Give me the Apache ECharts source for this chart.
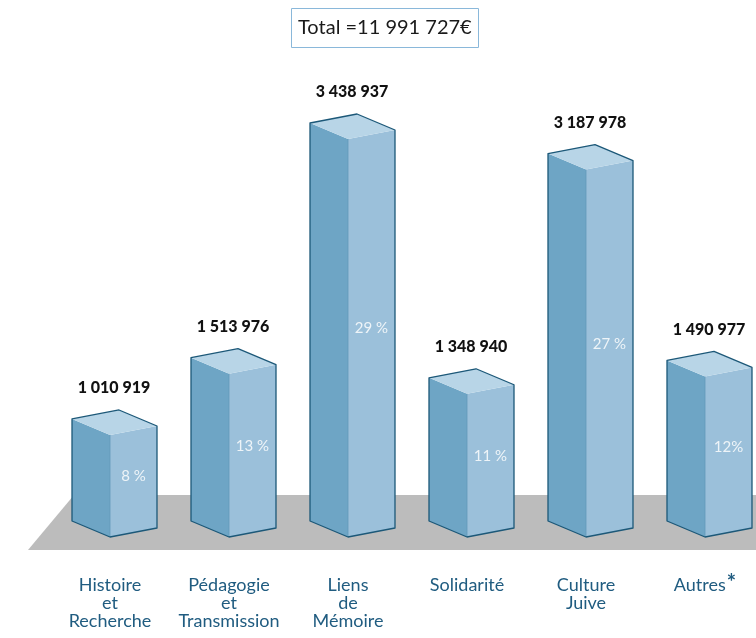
<!DOCTYPE html>
<html>
<head>
<meta charset="utf-8">
<title>Répartition</title>
<script src="https://cdn.jsdelivr.net/npm/echarts@6/dist/echarts.min.js"></script>
<style>
  html, body { margin: 0; padding: 0; background: #ffffff; }
  #chart { width: 756px; height: 638px; }
</style>
</head>
<body>
<div id="chart"></div>
<script>
// Domains and amounts (€)
const categories = [
  'Histoire\net\nRecherche',
  'Pédagogie\net\nTransmission',
  'Liens\nde\nMémoire',
  'Solidarité',
  'Culture\nJuive',
  'Autres*'
];
const amounts = [1010919, 1513976, 3438937, 1348940, 3187978, 1490977];
const shareLabels = ['8 %', '13 %', '29 %', '11 %', '27 %', '12%'];

// Value axis floor (bars stand on the grey plate at this level)
const Y_MIN = 174000;
const Y_MAX = 4000000;

// Box depth vectors (isometric-like projection)
const LEFT = [-38, -16];
const RIGHT = [47, -9];

const COLORS = {
  left: '#6ea5c5',
  right: '#9bc0da',
  top: '#b8d5e7',
  edge: '#1c5878',
  share: '#eef4f8',
  category: '#205c80'
};

const FONT = 'Lato, "DejaVu Sans", sans-serif';

function fmt(n) {
  return String(n).replace(/\B(?=(\d{3})+(?!\d))/g, ' ');
}

const total = amounts.reduce((a, b) => a + b, 0);

function renderBox(params, api) {
  const i = api.value(0);
  const v = api.value(1);
  const topPt = api.coord([i, v]);
  const basePt = api.coord([i, Y_MIN]);
  const fx = topPt[0], ft = topPt[1], fb = basePt[1];
  const lx = fx + LEFT[0], rx = fx + RIGHT[0];
  const backX = fx + LEFT[0] + RIGHT[0];
  const backY = ft + LEFT[1] + RIGHT[1];

  return {
    type: 'group',
    children: [
      { type: 'polygon', shape: { points: [[fx, ft], [lx, ft + LEFT[1]], [lx, fb + LEFT[1]], [fx, fb]] },
        style: { fill: COLORS.left } },
      { type: 'polygon', shape: { points: [[fx, ft], [rx, ft + RIGHT[1]], [rx, fb + RIGHT[1]], [fx, fb]] },
        style: { fill: COLORS.right } },
      { type: 'polygon', shape: { points: [[fx, ft], [lx, ft + LEFT[1]], [backX, backY], [rx, ft + RIGHT[1]]] },
        style: { fill: COLORS.top } },
      { type: 'polyline', shape: { points: [[fx, ft], [fx, fb]] },
        style: { stroke: '#6399b9', lineWidth: 0.8, fill: null } },
      { type: 'polygon', shape: { points: [
          [lx, ft + LEFT[1]], [backX, backY], [rx, ft + RIGHT[1]],
          [rx, fb + RIGHT[1]], [fx, fb], [lx, fb + LEFT[1]]
        ] },
        style: { fill: null, stroke: COLORS.edge, lineWidth: 1.3, lineJoin: 'round' } },
      { type: 'text', x: fx + 4, y: backY - 22,
        style: { text: fmt(v), fill: '#111', font: '900 16px ' + FONT,
                 align: 'center', verticalAlign: 'middle' } },
      { type: 'text', x: fx + RIGHT[0] / 2, y: (ft + fb) / 2 + RIGHT[1] / 2 - 5,
        style: { text: shareLabels[i], fill: COLORS.share, font: '15px ' + FONT,
                 align: 'center', verticalAlign: 'middle' } }
    ]
  };
}

const chart = echarts.init(document.getElementById('chart'), null, { renderer: 'canvas' });

chart.setOption({
  backgroundColor: '#ffffff',
  animation: false,
  title: {
    text: 'Total =' + fmt(total) + '€',
    left: 291,
    top: 8,
    padding: [10, 7, 10, 7],
    borderColor: '#8ab8da',
    borderWidth: 1,
    textStyle: { fontFamily: FONT, fontSize: 20, fontWeight: 'normal', color: '#1a1a1a', lineHeight: 20 }
  },
  graphic: [
    {
      type: 'polygon',
      z: -10,
      shape: { points: [[28, 550], [74, 495], [756, 495], [756, 550]] },
      style: { fill: '#bcbcbc' }
    }
  ],
  grid: { left: 110, right: 51, top: 70.6, height: 466.4 },
  xAxis: {
    type: 'category',
    boundaryGap: false,
    data: categories,
    axisLine: { show: false },
    axisTick: { show: false },
    splitLine: { show: false },
    axisLabel: {
      interval: 0,
      margin: 39,
      color: COLORS.category,
      fontFamily: FONT,
      fontSize: 18,
      lineHeight: 18,
      formatter: function (val) {
        if (val.slice(-1) === '*') {
          return '{a|' + val.slice(0, -1) + '}{s|*}';
        }
        return val;
      },
      rich: {
        a: { fontSize: 18, lineHeight: 18, color: COLORS.category, fontFamily: FONT },
        s: { fontSize: 22, fontWeight: 'bold', lineHeight: 18, color: COLORS.category, padding: [0, 0, 5, 1],
             fontFamily: FONT }
      }
    }
  },
  yAxis: {
    type: 'value',
    min: Y_MIN,
    max: Y_MAX,
    show: false,
    splitLine: { show: false }
  },
  series: [
    {
      type: 'custom',
      renderItem: renderBox,
      data: amounts.map((v, i) => [i, v]),
      encode: { x: 0, y: 1 }
    }
  ]
});
</script>
</body>
</html>
